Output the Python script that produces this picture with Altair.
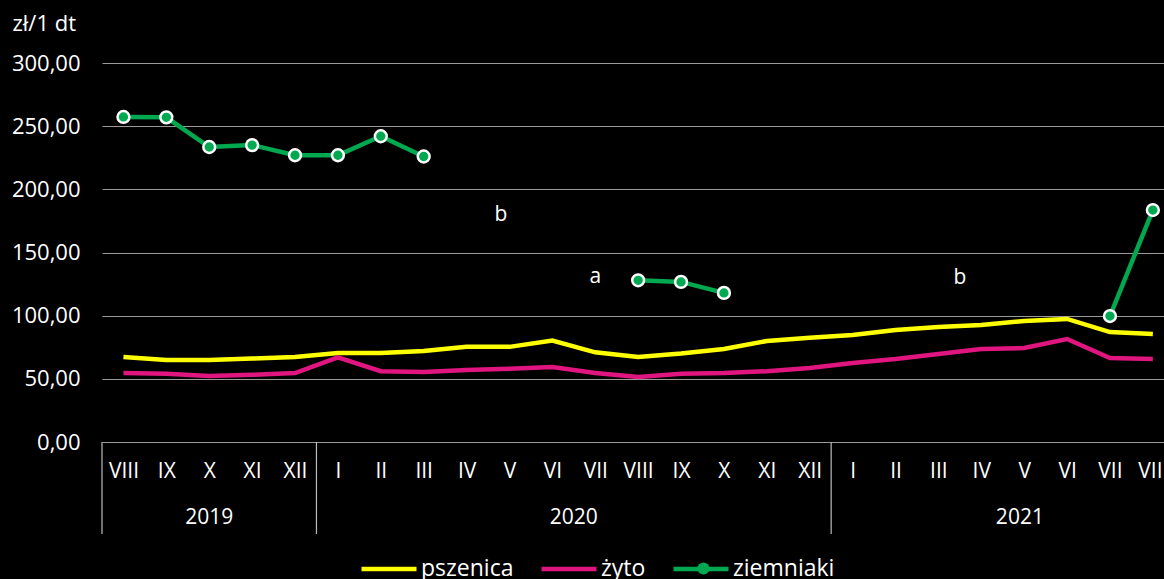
import altair as alt
import pandas as pd
import jinja2

months = ["VIII", "IX", "X", "XI", "XII",
          "I", "II", "III", "IV", "V", "VI", "VII", "VIII", "IX", "X", "XI", "XII",
          "I", "II", "III", "IV", "V", "VI", "VII", "VIII"]
years = ["2019", "2020", "2021"]
year_pos = [2.0, 10.5, 20.9]
sep_pos = [-0.5, 4.5, 16.5]

pszenica = [67.3, 65.0, 65.0, 66.0, 67.3, 70.5, 70.5, 72.0, 75.3, 75.3, 80.3, 71.0, 67.3,
            70.0, 73.6, 80.0, 82.5, 84.7, 88.7, 91.0, 92.6, 95.8, 97.4, 87.0, 85.5]
zyto = [54.6, 54.0, 52.3, 53.2, 54.6, 67.0, 56.0, 55.4, 57.0, 58.0, 59.4, 54.6, 51.5,
        54.0, 54.6, 56.0, 58.6, 62.5, 65.7, 69.7, 73.6, 74.4, 81.5, 66.5, 65.7]
ziemniaki = [257.3, 257.0, 233.5, 235.0, 227.0, 227.0, 242.0, 226.0,
             None, None, None, None,
             128.0, 126.7, 118.0,
             None, None, None, None, None, None, None, None,
             99.7, 183.6]

ann_text = ["b", "a", "b"]
ann_x = [8.8, 11.0, 19.5]
ann_y = [179.7, 130.6, 129.8]

series_names = ["pszenica", "żyto", "ziemniaki"]
series_colors = ["#FFFF00", "#E0157F", "#00A84F"]

rows = []
for name, vals in zip(series_names, [pszenica, zyto, ziemniaki]):
    seg = 0
    prev_none = True
    for i, v in enumerate(vals):
        if v is None:
            prev_none = True
            continue
        if prev_none:
            seg += 1
        prev_none = False
        rows.append({"i": i, "value": v, "series": name, "seg": f"{name}-{seg}"})
df = pd.DataFrame(rows)
df_pot = df[df.series == "ziemniaki"]

W, H = 1062, 379
FONT = "Open Sans"

label_arr = "[" + ",".join(f"'{m}'" for m in months) + "]"

xscale = alt.Scale(domain=[-0.5, 24.26], nice=False, zero=False)
yscale = alt.Scale(domain=[0, 300], nice=False)

color = alt.Color(
    "series:N",
    scale=alt.Scale(domain=series_names, range=series_colors),
    legend=alt.Legend(
        title=None, orient="none", legendX=257, legendY=476, direction="horizontal",
        symbolType="stroke", symbolStrokeWidth=4.5, symbolSize=3025,
        labelFontSize=23, labelColor="white", labelFont=FONT, columnPadding=18,
        labelOffset=2,
    ),
)

x_enc = alt.X(
    "i:Q", scale=xscale,
    axis=alt.Axis(values=list(range(25)), labelExpr=label_arr + "[datum.value]",
                  grid=False, ticks=False, domain=False, labelPadding=18,
                  labelFontSize=21, labelColor="white", labelFont=FONT, title=None,
                  labelFlush=False, labelOverlap=False, labelBound=False),
)
y_enc = alt.Y(
    "value:Q", scale=yscale,
    axis=alt.Axis(values=[0, 50, 100, 150, 200, 250, 300],
                  labelExpr="replace(format(datum.value, '.2f'), '.', ',')",
                  grid=True, gridColor="#9a9a9a", gridWidth=1.2, ticks=False, domain=False,
                  labelPadding=22, labelFontSize=22, labelColor="white", labelFont=FONT,
                  title="zł/1 dt", titleAngle=0, titleAlign="left", titleBaseline="middle",
                  titleX=-90, titleY=-40, titleFontSize=22, titleFontWeight="normal",
                  titleColor="white", titleFont=FONT),
)

lines = alt.Chart(df).mark_line(strokeWidth=4.5).encode(
    x=x_enc, y=y_enc, color=color, detail="seg:N",
    order=alt.Order("i:Q"),
)

pts = alt.Chart(df_pot).mark_point(
    filled=True, size=140, fill="#00A84F", stroke="white", strokeWidth=2.5, opacity=1
).encode(x=alt.X("i:Q", scale=xscale), y=alt.Y("value:Q", scale=yscale))

# legend marker (circle) for the ziemniaki entry
mk_df = pd.DataFrame({"k": ["ziemniaki"]})
marker = alt.Chart(mk_df).mark_point(
    filled=False, fill="#00A84F", stroke="white", strokeWidth=2.5, opacity=0
).encode(
    x=alt.value(0), y=alt.value(0),
    shape=alt.Shape(
        "k:N", scale=alt.Scale(range=["circle"]),
        legend=alt.Legend(
            title=None, orient="none", legendX=594, legendY=498,
            symbolFillColor="#00A84F", symbolStrokeColor="white", symbolStrokeWidth=2.5,
            symbolSize=150, symbolOpacity=1, labelExpr="''", labelFontSize=1,
        ),
    ),
)

ann_df = pd.DataFrame({"x": ann_x, "y": ann_y, "t": ann_text})
ann = alt.Chart(ann_df).mark_text(
    color="white", fontSize=21, font=FONT, baseline="middle", align="center"
).encode(x=alt.X("x:Q", scale=xscale), y=alt.Y("y:Q", scale=yscale), text="t:N")

sep_df = pd.DataFrame({"x": sep_pos})
seps = alt.Chart(sep_df).mark_rule(color="#bbbbbb", strokeWidth=1.2).encode(
    x=alt.X("x:Q", scale=xscale), y=alt.value(H), y2=alt.value(H + 92)
)

yr_df = pd.DataFrame({"x": year_pos, "t": years})
yrs = alt.Chart(yr_df).mark_text(
    color="white", fontSize=21, font=FONT, baseline="middle", align="center"
).encode(x=alt.X("x:Q", scale=xscale), y=alt.value(H + 76), text="t:N")

chart = alt.layer(lines, pts, ann, seps, yrs, marker).properties(
    width=W, height=H,
    background="black",
    padding={"left": 102, "top": 63, "right": 0, "bottom": 137},
    autosize=alt.AutoSizeParams(type="none"),
).configure_view(stroke=None)

try:
    from altair.utils.html import TEMPLATES

    class BlackTemplate(jinja2.Template):
        def render(self, *args, **kwargs):
            html = TEMPLATES["standard"].render(*args, **kwargs)
            style = "<style>html,body{background:#000;margin:0;padding:0;overflow:hidden;}</style>"
            if "<head>" in html:
                return html.replace("<head>", "<head>" + style, 1)
            return style + html

    tpl = BlackTemplate("x")
    save_kw = {"template": tpl}
except Exception:
    save_kw = {}

chart.save("out.html", embed_options={"renderer": "svg", "actions": False}, **save_kw)
